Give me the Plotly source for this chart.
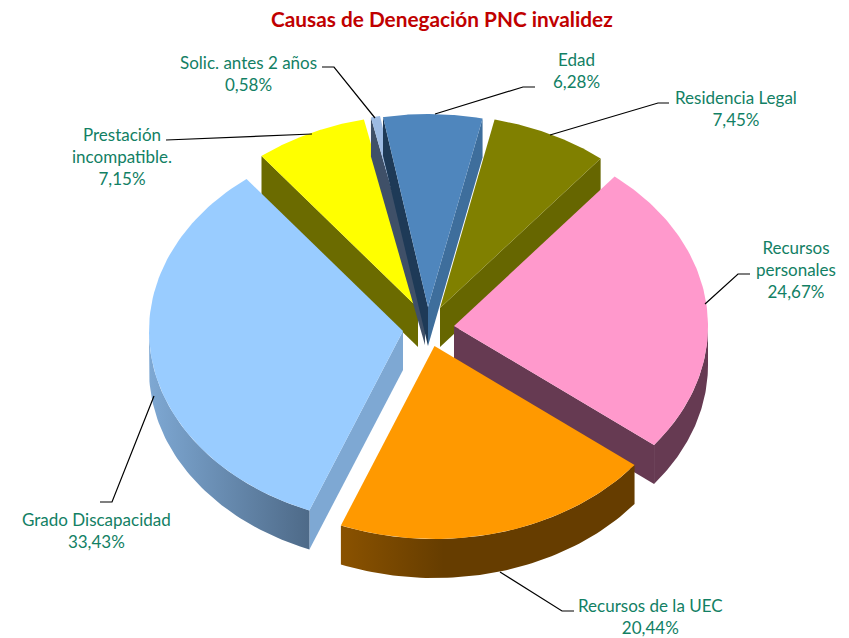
import math
import plotly.graph_objects as go

# ---- data ----
categories = ["Edad", "Residencia Legal", "Recursos personales", "Recursos de la UEC",
              "Grado Discapacidad", "Prestación incompatible.", "Solic. antes 2 años"]
percent = [6.28, 7.45, 24.67, 20.44, 33.43, 7.15, 0.58]
percent_labels = ["6,28%", "7,45%", "24,67%", "20,44%", "33,43%", "7,15%", "0,58%"]
title_text = "Causas de Denegación PNC invalidez"

# ---- geometry and style of the tilted, exploded pie ----
W, H = 849, 638
RX, RY, DEPTH = 254, 193, 39
FIRST_ANGLE = 349.8
apex = [(428, 307), (440, 308), (454, 326), (434.5, 346), (403, 331), (418, 308), (425, 306)]
top_col = ["#4F86BD", "#808000", "#FF99CC", "#FF9900", "#99CCFF", "#FFFF00", "#9DBBE3"]
start_wall = ["#1E3A57", None, None, None, "#7EA8D3", "#6B6B00", "#3F5068"]
end_wall = ["#3E6E9C", "#666600", "#663A52", None, None, None, None]
rim_scale = {
    2: [[0, "#663A52"], [1, "#663A52"]],
    3: [[0, "#8A5200"], [0.35, "#663D00"], [1, "#663D00"]],
    4: [[0, "#7EA8D3"], [1, "#4E6A88"]],
}
draw_order = [5, 1, 6, 0, 2, 4, 3]

leaders = [
    [(435, 114), (523, 87), (535, 87)],
    [(550, 135), (658, 103), (669, 103)],
    [(705, 304), (738, 274), (750, 274)],
    [(500, 572), (562, 611), (574, 611)],
    [(154, 396), (112, 502), (100, 502)],
    [(312, 134), (166, 140)],
    [(375, 118), (334, 67), (322, 67)],
]
label_pos = [(576, 70), (736, 108), (796, 269), (650, 616), (96, 530), (122, 156), (248, 73)]
label_lines = [["Edad"], ["Residencia Legal"], ["Recursos", "personales"], ["Recursos de la UEC"],
               ["Grado Discapacidad"], ["Prestación", "incompatible."], ["Solic. antes 2 años"]]
TEXT = "#128064"


def pt(c, a, dz=0):
    r = math.radians(a)
    return c[0] + RX * math.sin(r), c[1] - RY * math.cos(r) + dz


def poly(pts, color=None, scale=None):
    xs = [p[0] for p in pts] + [pts[0][0]]
    ys = [p[1] for p in pts] + [pts[0][1]]
    kw = dict(x=xs, y=ys, mode="lines", fill="toself", line=dict(width=0),
              hoverinfo="skip", showlegend=False)
    if scale:
        kw["fillgradient"] = dict(type="horizontal", colorscale=scale)
    else:
        kw["fillcolor"] = color
    return go.Scatter(**kw)


# slice angles from the values
spans = [p / sum(percent) * 360 for p in percent]
starts = []
a = FIRST_ANGLE
for s in spans:
    starts.append(a % 360)
    a += s

fig = go.Figure()
for i in draw_order:
    c, a0, a1 = apex[i], starts[i], starts[i] + spans[i]
    if start_wall[i]:
        fig.add_trace(poly([c, pt(c, a0), pt(c, a0, DEPTH), (c[0], c[1] + DEPTH)], start_wall[i]))
    if end_wall[i]:
        fig.add_trace(poly([c, pt(c, a1), pt(c, a1, DEPTH), (c[0], c[1] + DEPTH)], end_wall[i]))
    # outer rim: only the part of the arc that faces the viewer
    lo, hi = max(a0, 90), min(a1, 270)
    if hi > lo:
        n = 60
        angs = [lo + (hi - lo) * k / n for k in range(n + 1)]
        fig.add_trace(poly([pt(c, t) for t in angs] + [pt(c, t, DEPTH) for t in reversed(angs)],
                           scale=rim_scale[i]))
    n = 80
    arc = [pt(c, a0 + (a1 - a0) * k / n) for k in range(n + 1)]
    fig.add_trace(poly([c] + arc, top_col[i]))

shapes = []
for path in leaders:
    d = "M " + " L ".join(f"{x} {y}" for x, y in path)
    shapes.append(dict(type="path", path=d, line=dict(color="black", width=1.2), layer="above"))

annotations = [dict(x=441.5, y=18, text=f"<b>{title_text}</b>", showarrow=False,
                    font=dict(family="Lato", size=20.8, color="#C00000"),
                    xanchor="center", yanchor="middle")]
for i, (x, y) in enumerate(label_pos):
    text = "<br>".join(label_lines[i] + [percent_labels[i]])
    annotations.append(dict(x=x, y=y, text=text, showarrow=False, align="center",
                            font=dict(family="Lato", size=17, color=TEXT),
                            xanchor="center", yanchor="middle"))

fig.update_layout(
    width=W, height=H, margin=dict(l=0, r=0, t=0, b=0),
    paper_bgcolor="white", plot_bgcolor="white", showlegend=False,
    xaxis=dict(range=[0, W], visible=False, fixedrange=True),
    yaxis=dict(range=[H, 0], visible=False, fixedrange=True),
    shapes=shapes, annotations=annotations,
)
fig.write_html("out.html", config={"displayModeBar": False},
               post_script="document.body.style.margin='0';document.body.style.overflow='hidden';")
